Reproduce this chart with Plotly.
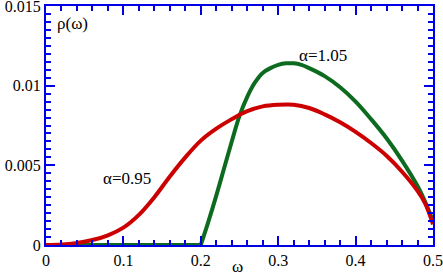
import plotly.graph_objects as go

# alpha = 0.95 (red)
omega_a = [0, 0.02, 0.04, 0.06, 0.08, 0.10, 0.12, 0.14, 0.16, 0.18, 0.20, 0.22, 0.24,
           0.26, 0.28, 0.30, 0.32, 0.34, 0.36, 0.38, 0.40, 0.42, 0.44, 0.46, 0.48,
           0.49, 0.5]
rho_a = [0, 0.00003, 0.00013, 0.00031, 0.00061, 0.00109, 0.00189, 0.0030, 0.0043, 0.0055,
         0.00655, 0.0073, 0.0079, 0.0084, 0.0087, 0.0088, 0.0088, 0.0086, 0.0082, 0.0077,
         0.0071, 0.0064, 0.0056, 0.0046, 0.0034, 0.0026, 0.0013]

# alpha = 1.05 (green)
omega_b = [0, 0.2, 0.21, 0.22, 0.23, 0.24, 0.25, 0.26, 0.27, 0.28, 0.29, 0.30, 0.31,
           0.32, 0.33, 0.34, 0.36, 0.38, 0.40, 0.42, 0.44, 0.46, 0.48, 0.49, 0.5]
rho_b = [0, 0, 0.0015, 0.0031, 0.0048, 0.0065, 0.0081, 0.0093, 0.0102, 0.0108, 0.0111,
         0.0113, 0.0114, 0.0114, 0.0113, 0.0111, 0.0106, 0.0099, 0.0090, 0.0079, 0.0067,
         0.0053, 0.0037, 0.0027, 0.0015]

x_ticks = [0, 0.1, 0.2, 0.3, 0.4, 0.5]
x_ticktext = ["0", "0.1", "0.2", "0.3", "0.4", "0.5"]
y_ticks = [0, 0.005, 0.01, 0.015]
y_ticktext = ["0", "0.005", "0.01", "0.015"]

RED = "#cc0000"
GREEN = "#0d6b1f"
AXC = "#0000e6"
FONT = "'Liberation Serif', 'DejaVu Serif', serif"

fig = go.Figure()
# green: flat part then the rising curve (split to keep the corner sharp)
fig.add_trace(go.Scatter(x=omega_b[:2], y=rho_b[:2], mode="lines",
                         line=dict(color=GREEN, width=4)))
fig.add_trace(go.Scatter(x=omega_b[1:], y=rho_b[1:], mode="lines",
                         line=dict(color=GREEN, width=4, shape="spline", smoothing=1.0)))
fig.add_trace(go.Scatter(x=omega_a, y=rho_a, mode="lines",
                         line=dict(color=RED, width=4, shape="spline", smoothing=1.0)))

axis_common = dict(
    showgrid=False, zeroline=False, showline=True, linecolor=AXC, linewidth=2,
    mirror="allticks", ticks="inside", tickcolor=AXC, tickwidth=2, ticklen=9,
    tickfont=dict(family=FONT, size=16, color="black"), ticklabeloverflow="allow",
    automargin=False,
)

fig.update_xaxes(range=[0, 0.5], tickvals=x_ticks, ticktext=x_ticktext,
                 minor=dict(dtick=0.02, ticks="inside", ticklen=5, tickwidth=2, tickcolor=AXC),
                 **axis_common)
fig.update_yaxes(range=[0, 0.015], tickvals=y_ticks, ticktext=y_ticktext,
                 minor=dict(dtick=0.0005, ticks="inside", ticklen=5, tickwidth=2, tickcolor=AXC),
                 **axis_common)

tf = dict(family=FONT, size=17, color="black")
fig.add_annotation(x=0.012, y=0.0139, xref="x", yref="y", text="ρ(ω)", showarrow=False,
                   xanchor="left", yanchor="middle", font=tf)
fig.add_annotation(x=0.105, y=0.0042, xref="x", yref="y", text="α=0.95", showarrow=False,
                   xanchor="center", yanchor="middle", font=tf)
fig.add_annotation(x=0.358, y=0.0119, xref="x", yref="y", text="α=1.05", showarrow=False,
                   xanchor="center", yanchor="middle", font=tf)
fig.add_annotation(x=0.494, y=-0.092, xref="paper", yref="paper", text="ω", showarrow=False,
                   xanchor="center", yanchor="middle", font=tf)

fig.update_layout(width=443, height=273, margin=dict(l=46, r=10, t=6, b=28),
                  paper_bgcolor="white", plot_bgcolor="white", showlegend=False)

fig.write_html("out.html", config={"displayModeBar": False},
               post_script="document.body.style.margin='0';")
